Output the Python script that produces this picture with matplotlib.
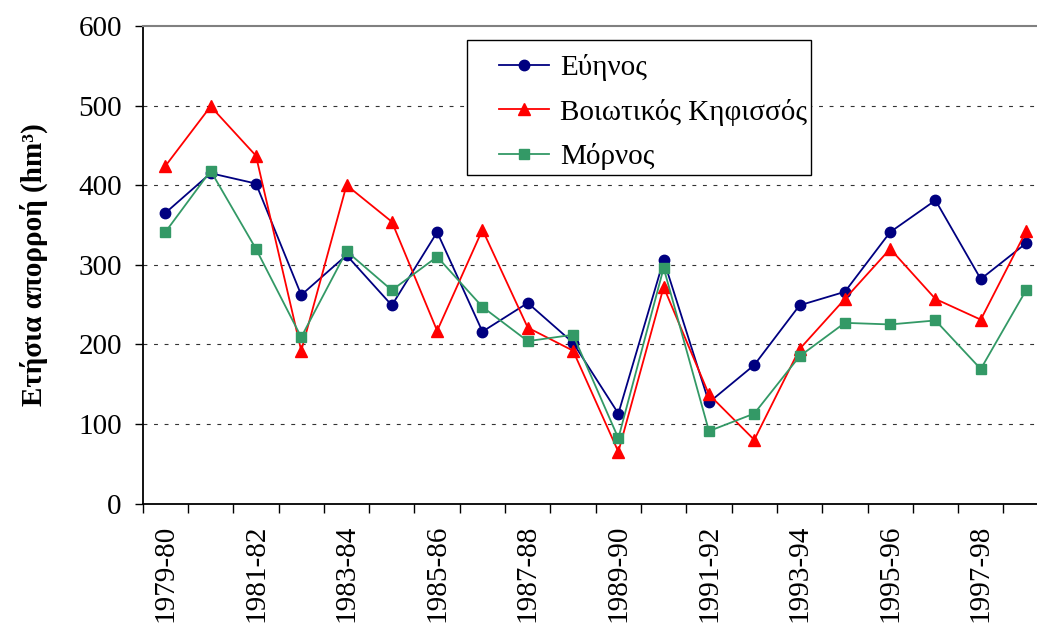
import matplotlib
matplotlib.use("Agg")
import matplotlib.pyplot as plt
from matplotlib.patches import Rectangle
import numpy as np

plt.rcParams['font.family'] = ['Liberation Serif', 'DejaVu Serif']

years = ["1979-80", "1980-81", "1981-82", "1982-83", "1983-84", "1984-85",
         "1985-86", "1986-87", "1987-88", "1988-89", "1989-90", "1990-91",
         "1991-92", "1992-93", "1993-94", "1994-95", "1995-96", "1996-97",
         "1997-98", "1998-99"]
evinos = [365, 415, 402, 262, 312, 249, 341, 216, 252, 202,
          113, 306, 127, 174, 249, 266, 341, 381, 282, 327]
kifissos = [424, 499, 437, 192, 400, 354, 217, 344, 221, 192,
            65, 272, 137, 80, 194, 257, 320, 257, 231, 342]
mornos = [341, 418, 320, 209, 317, 268, 310, 247, 204, 212,
          82, 296, 91, 113, 185, 227, 225, 230, 169, 268]
series_names = ["Εύηνος", "Βοιωτικός Κηφισσός", "Μόρνος"]

W, H = 1037, 623
fig = plt.figure(figsize=(W / 100, H / 100), dpi=100)
ax = fig.add_axes([0.1376, 0.1918, 0.8737, 0.7665])

x = np.arange(len(years))
l1, = ax.plot(x, evinos, color="#000080", marker="o", markersize=7.5, lw=1.3,
              label=series_names[0], zorder=3)
l2, = ax.plot(x, kifissos, color="#FF0000", marker="^", markersize=9, lw=1.3,
              label=series_names[1], zorder=3)
l3, = ax.plot(x, mornos, color="#339966", marker="s", markersize=7, lw=1.3,
              label=series_names[2], zorder=3)

ax.set_xlim(-0.5, len(years) - 0.5)
ax.set_ylim(0, 600)
ax.set_yticks(np.arange(0, 601, 100))
for v in range(100, 600, 100):
    ax.axhline(v, color="#333333", lw=0.8, linestyle=(0, (3.5, 6)), zorder=1)

ax.set_xticks(x[::2])
ax.set_xticklabels(years[::2], rotation=90)
ax.set_xticks(np.arange(-0.5, len(years), 1), minor=True)
ax.tick_params(axis='x', which='major', length=0, pad=15, labelsize=21)
ax.tick_params(axis='x', which='minor', length=6.5, width=1, direction='out')
ax.tick_params(axis='y', length=6, width=1, direction='out', labelsize=21, pad=9)

ax.spines['top'].set_color('#808080')
ax.spines['top'].set_linewidth(1.5)
ax.spines['right'].set_visible(False)
ax.spines['left'].set_linewidth(1.3)
ax.spines['bottom'].set_linewidth(1.3)

ax.set_ylabel("Ετήσια απορροή (hm³)", fontsize=21, fontweight='bold', labelpad=22)

# legend without its own frame, frame drawn separately (asymmetric padding)
fig.patches.append(Rectangle((467 / W, 1 - 175 / H), (811 - 467) / W, (175 - 40) / H,
                             transform=fig.transFigure, facecolor='white',
                             edgecolor='black', lw=1.0, zorder=4.5))
leg = fig.legend(handles=[l1, l2, l3], loc='upper left',
                 bbox_to_anchor=(499 / W, 1 - 54 / H), fontsize=21,
                 frameon=False, handlelength=1.7, borderpad=0,
                 labelspacing=0.6, handletextpad=0.4, borderaxespad=0)
leg.set_zorder(6)

fig.savefig("out.png", dpi=100)
